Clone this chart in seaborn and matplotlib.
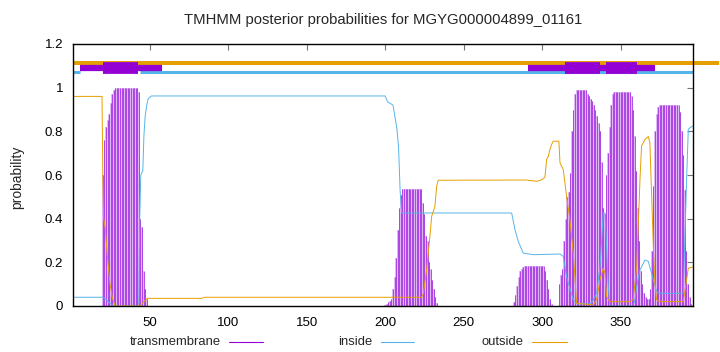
import matplotlib
matplotlib.use("Agg")
import matplotlib.pyplot as plt
import seaborn as sns
import pandas as pd
from matplotlib.lines import Line2D

# ---------------- data ----------------
title = "TMHMM posterior probabilities for MGYG000004899_01161"
seq_len = 396
x_ticks = [50, 100, 150, 200, 250, 300, 350]
y_ticks = [0, 0.2, 0.4, 0.6, 0.8, 1, 1.2]
y_tick_labels = ["0", "0.2", "0.4", "0.6", "0.8", "1", "1.2"]
legend_labels = ["transmembrane", "inside", "outside"]

# transmembrane posterior (residues with non-zero probability)
tm_pos = (list(range(20, 49)) + list(range(200, 234)) + list(range(282, 307))
          + list(range(311, 396)))
tm_prob = [
    # helix 1 : 20..48
    0.60, 0.76, 0.82, 0.85, 0.88, 0.93, 0.97, 0.99, 1.0, 1.0,
    1.0, 1.0, 1.0, 1.0, 1.0, 1.0, 1.0, 1.0, 1.0, 1.0,
    1.0, 1.0, 1.0, 0.98, 0.40, 0.36, 0.16, 0.08, 0.03,
    # helix 2 : 200..233
    0.005, 0.01, 0.02, 0.025, 0.03, 0.08, 0.135, 0.22, 0.35, 0.45,
    0.51, 0.535, 0.535, 0.535, 0.535, 0.535, 0.535, 0.535, 0.535, 0.535,
    0.535, 0.535, 0.535, 0.535, 0.47, 0.42, 0.32, 0.30, 0.20, 0.17,
    0.12, 0.08, 0.04, 0.015,
    # small bump : 282..306
    0.02, 0.05, 0.09, 0.135, 0.16, 0.17, 0.18, 0.185, 0.185, 0.185,
    0.185, 0.185, 0.185, 0.185, 0.185, 0.185, 0.185, 0.185, 0.185, 0.185,
    0.16, 0.12, 0.08, 0.03, 0.01,
    # helices 3-5 : 311..395
    0.10, 0.14, 0.17, 0.30, 0.40, 0.50, 0.52, 0.61, 0.80, 0.90,
    0.97, 0.99, 0.99, 0.99, 0.99, 0.99, 0.99, 0.99, 0.97, 0.96,
    0.95, 0.94, 0.92, 0.90, 0.87, 0.84, 0.80, 0.66, 0.45, 0.42,
    0.60, 0.70, 0.82, 0.92, 0.97, 0.98, 0.98, 0.98, 0.98, 0.98,
    0.98, 0.98, 0.98, 0.98, 0.98, 0.98, 0.96, 0.90, 0.78, 0.62,
    0.45, 0.30, 0.16, 0.10, 0.06, 0.04, 0.03, 0.03, 0.08, 0.25,
    0.55, 0.80, 0.88, 0.91, 0.92, 0.92, 0.92, 0.92, 0.92, 0.92,
    0.92, 0.92, 0.92, 0.92, 0.92, 0.92, 0.92, 0.89, 0.80, 0.69,
    0.53, 0.25, 0.10, 0.04, 0.01,
]

inside_pos = [1, 20, 22, 24, 27, 43, 43.5, 44.2, 45.5, 46.2, 47, 48, 49, 51,
              200, 201.5, 205, 207.5, 208.5, 209.5, 210.5, 280.6, 282.7, 284.8,
              288, 294.4, 311.4, 313.5, 315.6, 317.7, 319.9, 322, 331, 332.6,
              334.8, 336.9, 339, 340.1, 341.1, 342.2, 343.2, 358.1, 359.2,
              360.3, 362.4, 365.6, 367.7, 370.9, 373, 375, 390, 392.1, 393.2, 396]
inside_prob = [0.04, 0.04, 0.03, 0.015, 0.0, 0.0, 0.39, 0.60, 0.62, 0.78, 0.87,
               0.92, 0.95, 0.962, 0.962, 0.935, 0.92, 0.81, 0.73, 0.53, 0.426,
               0.426, 0.35, 0.296, 0.242, 0.235, 0.238, 0.227, 0.135, 0.081,
               0.028, 0.01, 0.01, 0.028, 0.058, 0.18, 0.426, 0.426, 0.273,
               0.089, 0.0, 0.0, 0.03, 0.089, 0.165, 0.211, 0.204, 0.12, 0.066,
               0.058, 0.058, 0.579, 0.81, 0.825]

outside_pos = [1, 19.5, 20, 20.5, 21.5, 23, 24.6, 26, 27.8, 43.7, 46.9, 48.4,
               83, 85, 222, 223.2, 224.3, 226.4, 228.5, 229.6, 231.7, 232.8,
               233.8, 290, 296.6, 299.8, 301.8, 302.9, 304, 305, 306.1, 307.1,
               310.7, 311.4, 313.5, 315.6, 317.7, 319.9, 322, 332.6, 334.8,
               336.9, 339, 340.1, 341.1, 343.2, 356, 358.1, 360.3, 362.4, 363.4,
               365.6, 367.7, 368.7, 370.9, 371.9, 373, 375, 390, 392.1, 393.2, 396]
outside_prob = [0.96, 0.96, 0.60, 0.40, 0.36, 0.22, 0.10, 0.04, 0.0, 0.0, 0.025,
                0.035, 0.035, 0.04, 0.04, 0.038, 0.058, 0.165, 0.32, 0.41,
                0.456, 0.549, 0.576, 0.577, 0.571, 0.578, 0.59, 0.671, 0.686,
                0.717, 0.74, 0.755, 0.755, 0.656, 0.625, 0.503, 0.395, 0.242,
                0.012, 0.005, 0.028, 0.12, 0.173, 0.15, 0.043, 0.02, 0.02, 0.03,
                0.18, 0.579, 0.733, 0.763, 0.776, 0.748, 0.273, 0.104, 0.028,
                0.02, 0.02, 0.12, 0.173, 0.179]

# predicted topology bands drawn above the curves (start, end residues)
outside_band = [(1, 413)]
inside_band = [(1, 5.5), (43.7, 396)]
tm_band_thin = [(5.5, 58), (291, 372)]
tm_band_thick = [(20, 42.4), (314.6, 337), (341, 360.3)]
band_levels = {"outside": 1.112, "tm": 1.091, "inside": 1.074}

# ---------------- style ----------------
sns.set_theme(style="white")
plt.rcParams["font.family"] = ["Liberation Sans", "DejaVu Sans"]

c_tm = "#9400D3"
c_in = "#56B4E9"
c_out = "#E69F00"

fig = plt.figure(figsize=(7.2, 3.52), dpi=100)
ax = fig.add_axes([73 / 720, 46 / 352, (692.7 - 73) / 720, 262 / 352])

df_tm = pd.DataFrame({"pos": tm_pos, "prob": tm_prob})
df_in = pd.DataFrame({"pos": inside_pos, "prob": inside_prob})
df_out = pd.DataFrame({"pos": outside_pos, "prob": outside_prob})

# transmembrane impulses
ax.bar(df_tm["pos"], df_tm["prob"], width=1.0, color="#dfb8f3", linewidth=0)
ax.vlines(df_tm["pos"], 0, df_tm["prob"], colors="#a533e2", lw=0.6)

sns.lineplot(data=df_in, x="pos", y="prob", ax=ax, color=c_in, lw=0.7,
             estimator=None, sort=False, legend=False)
sns.lineplot(data=df_out, x="pos", y="prob", ax=ax, color=c_out, lw=0.7,
             estimator=None, sort=False, legend=False)

# topology bands
for a, b in inside_band:
    ax.plot([a, b], [band_levels["inside"]] * 2, color=c_in, lw=2.2,
            solid_capstyle="butt", clip_on=False)
for a, b in outside_band:
    ax.plot([a, b], [band_levels["outside"]] * 2, color=c_out, lw=2.9,
            solid_capstyle="butt", clip_on=False)
for a, b in tm_band_thin:
    ax.plot([a, b], [band_levels["tm"]] * 2, color=c_tm, lw=4.5,
            solid_capstyle="butt", clip_on=False)
for a, b in tm_band_thick:
    ax.plot([a, b], [band_levels["tm"]] * 2, color=c_tm, lw=8.5,
            solid_capstyle="butt", clip_on=False)

ax.set_xlim(1, seq_len)
ax.set_ylim(0, 1.2)
ax.set_xticks(x_ticks)
ax.set_yticks(y_ticks)
ax.set_yticklabels(y_tick_labels)
ax.set_xlabel("")
ax.set_ylabel("")
ax.tick_params(direction="in", top=True, right=True, length=4, width=0.8,
               color="0.45", labelsize=9.5, labelcolor="black")
ax.tick_params(axis="x", pad=8)
ax.tick_params(axis="y", pad=7)
for s in ax.spines.values():
    s.set_color("black")
    s.set_linewidth(1.0)

fig.text(383 / 720, 1 - 20 / 352, title, ha="center", va="center", fontsize=10.7)
fig.text(17 / 720, 1 - 177 / 352, "probability", ha="center", va="center",
         rotation=90, fontsize=10)

# legend (gnuplot style: label then sample)
ly = 1 - 342 / 352
for label, x_end, (s0, s1), col in [
    (legend_labels[0], 221, (229, 263), c_tm),
    (legend_labels[1], 372, (381, 414), c_in),
    (legend_labels[2], 524, (532, 567), c_out),
]:
    fig.text(x_end / 720, ly, label, ha="right", va="center", fontsize=9.4)
    fig.add_artist(Line2D([s0 / 720, s1 / 720], [ly, ly], color=col, lw=0.8,
                          transform=fig.transFigure))

fig.savefig("out.png", dpi=100)
